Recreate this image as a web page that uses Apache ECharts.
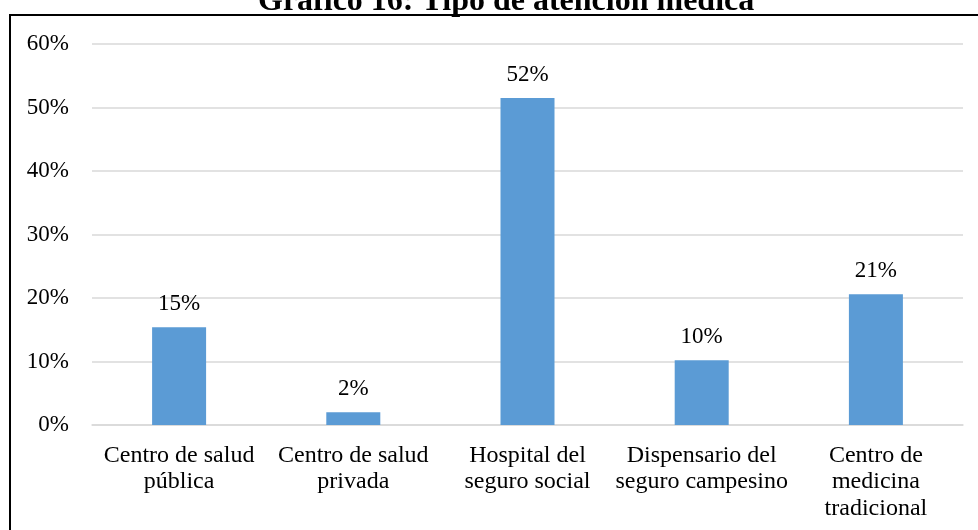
<!DOCTYPE html>
<html>
<head>
<meta charset="utf-8">
<script src="https://cdn.jsdelivr.net/npm/echarts@6/dist/echarts.min.js"></script>
<style>
  html, body { margin: 0; padding: 0; background: #fff; }
  #chart { width: 978px; height: 530px; }
</style>
</head>
<body>
<div id="chart"></div>
<script>
  // datos
  var categorias = [
    'Centro de salud\npública',
    'Centro de salud\nprivada',
    'Hospital del\nseguro social',
    'Dispensario del\nseguro campesino',
    'Centro de\nmedicina\ntradicional'
  ];
  var porcentajes = [15.4, 2.0, 51.5, 10.2, 20.6];
  var ejeY = { min: 0, max: 60, interval: 10 };

  var fuente = 'Liberation Serif';

  var chart = echarts.init(document.getElementById('chart'));
  chart.setOption({
    animation: false,
    backgroundColor: '#fff',
    title: {
      text: 'Gráfico 16: Tipo de atención médica',
      left: 258,
      top: -14,
      padding: 0,
      textStyle: { fontFamily: fuente, fontWeight: 'bold', fontSize: 32, color: '#000' }
    },
    graphic: [{
      type: 'rect',
      z: 100,
      shape: { x: 10, y: 15, width: 1000, height: 1000 },
      style: { fill: 'none', stroke: '#000', lineWidth: 2 }
    }],
    grid: { left: 92, right: 15, top: 44, bottom: 105 },
    xAxis: {
      type: 'category',
      data: categorias,
      axisTick: { show: false },
      axisLine: { lineStyle: { color: '#d9d9d9', width: 1.5 } },
      axisLabel: {
        interval: 0,
        margin: 17,
        fontFamily: fuente,
        fontSize: 24,
        lineHeight: 26.5,
        color: '#000'
      }
    },
    yAxis: {
      type: 'value',
      min: ejeY.min,
      max: ejeY.max,
      interval: ejeY.interval,
      axisLine: { show: false },
      axisTick: { show: false },
      splitLine: { lineStyle: { color: '#d9d9d9', width: 1.5 } },
      axisLabel: {
        margin: 23,
        fontFamily: fuente,
        fontSize: 23,
        color: '#000',
        formatter: '{value}%'
      }
    },
    series: [{
      type: 'bar',
      data: porcentajes,
      barWidth: 54,
      itemStyle: { color: '#5b9bd5' },
      label: {
        show: true,
        position: 'top',
        distance: 12,
        fontFamily: fuente,
        fontSize: 23,
        color: '#000',
        formatter: function (p) { return Math.round(p.value) + '%'; }
      }
    }]
  });
</script>
</body>
</html>
